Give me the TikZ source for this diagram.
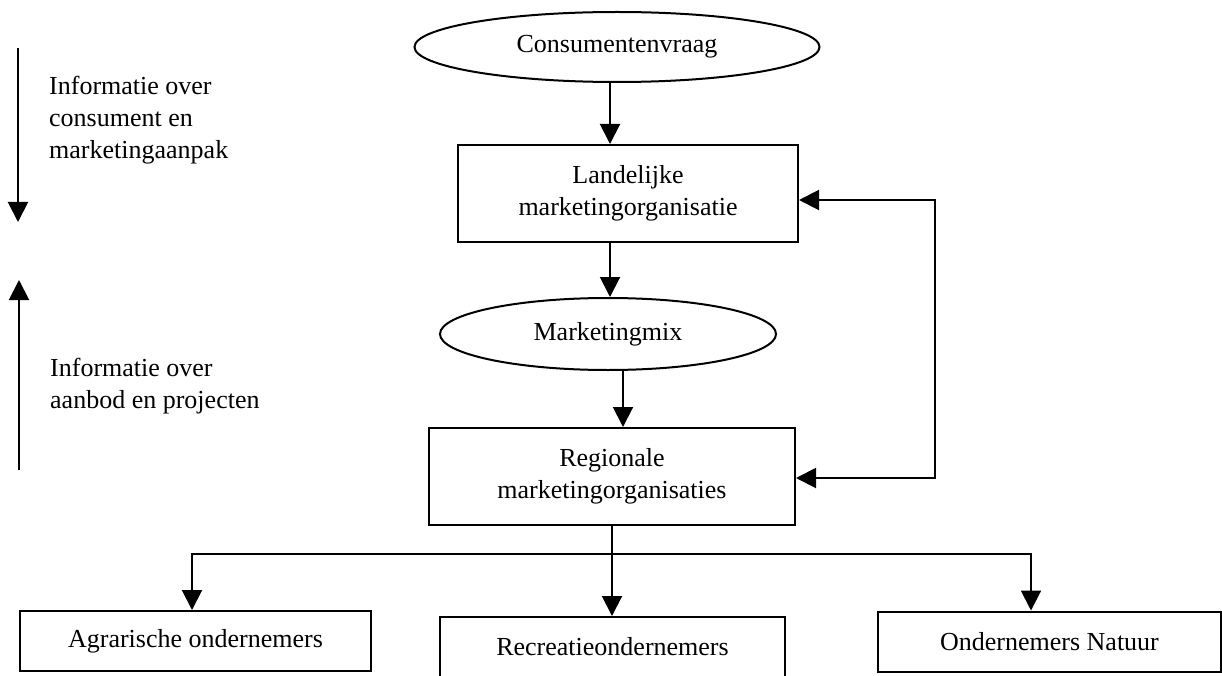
\documentclass[tikz,border=0pt]{standalone}
\usepackage{fontspec}
\setmainfont{Liberation Serif}
\usetikzlibrary{shapes.geometric,arrows.meta}
\tikzset{
  lw/.style={line width=2pt},
  arr/.style={lw,-{Triangle[length=20pt,width=20pt]}},
  arrboth/.style={lw,{Triangle[length=20pt,width=20pt]}-{Triangle[length=20pt,width=20pt]}},
  txt/.style={font=\fontsize{26}{32}\selectfont},
  boxnode/.style={draw,lw,txt,align=center,inner sep=0pt},
  ellnode/.style={draw,lw,txt,ellipse,inner sep=0pt},
  lefttxt/.style={txt,align=left,anchor=west,inner sep=0pt}
}
\begin{document}
\begin{tikzpicture}[x=1pt,y=-1pt]
\useasboundingbox (0,0) rectangle (1222,676);
% nodes
\node[ellnode,minimum width=405pt,minimum height=70pt] (c) at (617,47) {Consumentenvraag};
\node[boxnode,minimum width=340pt,minimum height=97pt] (l) at (628,193.5) {Landelijke\\marketingorganisatie};
\node[ellnode,minimum width=336pt,minimum height=72pt] (m) at (608,334) {Marketingmix};
\node[boxnode,minimum width=366pt,minimum height=97pt] (r) at (612,476.5) {Regionale\\marketingorganisaties};
\node[boxnode,minimum width=351pt,minimum height=60pt] (ag) at (195.5,641) {Agrarische ondernemers};
\node[boxnode,minimum width=345pt,minimum height=60pt] (rec) at (612.5,647) {Recreatieondernemers};
\node[boxnode,minimum width=343pt,minimum height=60pt] (on) at (1049.5,641.5) {Ondernemers Natuur};
\node[lefttxt] (t1) at (49,120) {Informatie over\\consument en\\marketingaanpak};
\node[lefttxt] (t2) at (50,386) {Informatie over\\aanbod en projecten};
% coordinates
\coordinate (d1) at (18,48);
\coordinate (d2) at (18,222);
\coordinate (u1) at (19,470);
\coordinate (u2) at (19,280);
\coordinate (fb1) at (935,200);
\coordinate (fb2) at (935,478);
\coordinate (split) at (612,554);
% connectors
\draw[arr] ([xshift=-7pt]c.south) -- ([xshift=-7pt]c.south |- l.north);
\draw[arr] ([xshift=-18pt]l.south) -- ([xshift=-18pt]l.south |- m.north);
\draw[arr] ([xshift=15pt]m.south) -- ([xshift=15pt]m.south |- r.north);
\draw[arrboth] (fb1 -| l.east) -- (fb1) -- (fb2) -- (fb2 -| r.east);
\draw[arr] (r.south) -- (r.south |- rec.north);
\draw[arr] (split) -| ([xshift=-3.5pt]ag.north);
\draw[arr] (split) -| ([xshift=-18.5pt]on.north);
\draw[arr] (d1) -- (d2);
\draw[arr] (u1) -- (u2);
\end{tikzpicture}
\end{document}
